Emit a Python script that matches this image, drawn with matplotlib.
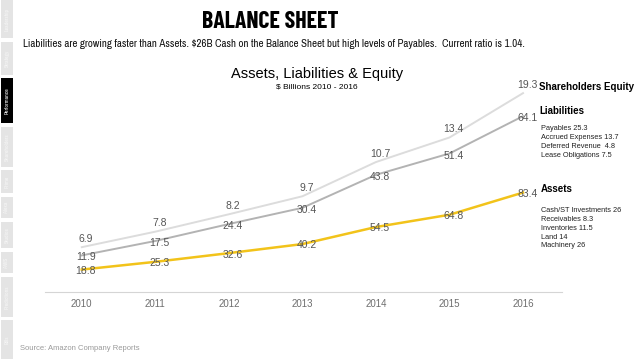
"""Amazon balance sheet slide: stacked assets / liabilities / equity lines 2010-2016."""
import matplotlib
matplotlib.use("Agg")
import matplotlib.pyplot as plt
import numpy as np
from matplotlib.patches import Rectangle

years = ["2010", "2011", "2012", "2013", "2014", "2015", "2016"]
assets = [18.8, 25.3, 32.6, 40.2, 54.5, 64.8, 83.4]
liabilities = [11.9, 17.5, 24.4, 30.4, 43.8, 51.4, 64.1]
equity = [6.9, 7.8, 8.2, 9.7, 10.7, 13.4, 19.3]

liab_items = ["Payables 25.3", "Accrued Expenses 13.7", "Deferred Revenue  4.8",
              "Lease Obligations 7.5"]
asset_items = ["Cash/ST Investments 26", "Receivables 8.3", "Inventories 11.5",
               "Land 14", "Machinery 26"]
tabs = ["Leadership", "Strategy", "Performance", "Shareholders", "Prime", "Alexa",
        "Studios", "AWS", "Predictions", "Bills"]
tab_spans = [(0, 38), (42, 75), (78, 123), (127, 167), (170, 193), (197, 218),
             (222, 248), (252, 273), (277, 317), (320, 359)]
ACTIVE = "Performance"

W, H = 638, 359
plt.rcParams["font.family"] = ["Liberation Sans", "DejaVu Sans"]
NARROW = ["Archivo Narrow", "Liberation Sans", "DejaVu Sans"]
COND = ["Barlow Condensed", "DejaVu Sans"]

fig = plt.figure(figsize=(W / 100, H / 100), dpi=100)
fig.patch.set_facecolor("white")


def px(x, y):
    return x / W, 1 - y / H


# --- sidebar tabs ---
for name, (y0, y1) in zip(tabs, tab_spans):
    active = name == ACTIVE
    fig.patches.append(Rectangle(px(1, y1), 12 / W, (y1 - y0) / H, transform=fig.transFigure,
                                 facecolor="black" if active else "#e4e4e4", edgecolor="none"))
    fig.text(*px(7, (y0 + y1) / 2), name, rotation=90, ha="center", va="center",
             fontsize=4, color="white" if active else "#f6f6f6", family=NARROW)

# --- headings ---
fig.text(*px(270, 21.5), "BALANCE SHEET", ha="center", va="center", fontsize=17.2,
         fontweight="bold", family=COND)
fig.text(*px(23, 44), "Liabilities are growing faster than Assets. $26B Cash on the Balance "
         "Sheet but high levels of Payables.  Current ratio is 1.04.",
         ha="left", va="center", fontsize=7.85, color="#111111", family=NARROW)
fig.text(*px(317, 74), "Assets, Liabilities & Equity", ha="center", va="center",
         fontsize=10.5)
fig.text(*px(317, 87), "$ Billions 2010 - 2016", ha="center", va="center", fontsize=6)

# --- chart ---
ax = fig.add_axes([45 / W, (H - 292) / H, (562 - 45) / W, 214.6 / H])
x = np.arange(len(years))
a = np.array(assets)
al = a + np.array(liabilities)
ale = al + np.array(equity)

ax.plot(x, ale, color="#dcdcdc", lw=1.4, zorder=1)
ax.plot(x, al, color="#b3b3b3", lw=1.4, zorder=2)
ax.plot(x, a, color="#f2c31a", lw=1.8, zorder=3)

lab = dict(ha="center", fontsize=7.5, color="#555555")
for xi, yi, v in zip(x, ale, equity):
    ax.annotate(f"{v}", (xi, yi), xytext=(3, 2.5), textcoords="offset points", va="bottom", **lab)
for xi, yi, v in zip(x, al, liabilities):
    ax.annotate(f"{v}", (xi, yi), xytext=(3, -1.5), textcoords="offset points", va="center", **lab)
for xi, yi, v in zip(x, a, assets):
    ax.annotate(f"{v}", (xi, yi), xytext=(3, -1), textcoords="offset points", va="center", **lab)

ax.set_xlim(-0.5, 6.53)
ax.set_ylim(0, 180)
ax.set_xticks(x)
ax.set_xticklabels(years, fontsize=7, color="#6e6e6e")
ax.tick_params(axis="x", length=0, pad=5)
ax.set_yticks([])
for s in ("top", "left", "right"):
    ax.spines[s].set_visible(False)
ax.spines["bottom"].set_color("#d5d5d5")
ax.spines["bottom"].set_linewidth(0.8)
ax.patch.set_visible(False)

# --- side annotations ---
bold = dict(ha="left", va="center", fontsize=7, fontweight="bold")
small = dict(ha="left", va="center", fontsize=5.3, color="#222222")
fig.text(*px(539, 87), "Shareholders Equity", **bold)
fig.text(*px(539, 111), "Liabilities", **bold)
for i, t in enumerate(liab_items):
    fig.text(*px(541, 129 + 8.7 * i), t, **small)
fig.text(*px(541, 189), "Assets", **bold)
for i, t in enumerate(asset_items):
    fig.text(*px(541, 211 + 8.7 * i), t, **small)

fig.text(*px(20, 348), "Source: Amazon Company Reports", ha="left", va="center",
         fontsize=5.5, color="#9a9a9a")

fig.savefig("out.png", dpi=100, facecolor="white")
